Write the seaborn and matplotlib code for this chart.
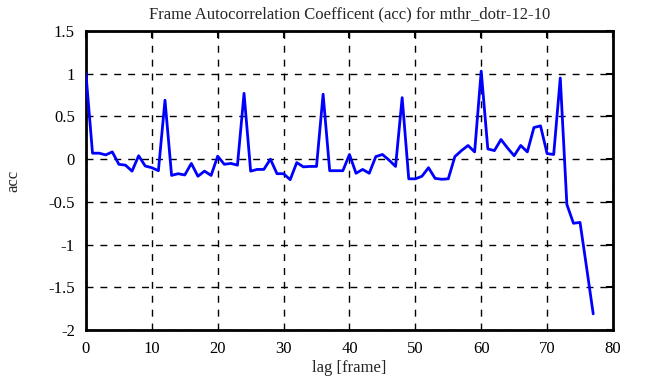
import pandas as pd
import matplotlib
matplotlib.use('Agg')
import matplotlib.pyplot as plt
import seaborn as sns

# autocorrelation values, lag 0..77
lags = list(range(78))
acc = [1.0, 0.07, 0.07, 0.05, 0.085, -0.06, -0.07, -0.14, 0.04, -0.08,
       -0.10, -0.135, 0.69, -0.19, -0.17, -0.185, -0.05, -0.2, -0.14, -0.19,
       0.035, -0.06, -0.05, -0.07, 0.77, -0.14, -0.12, -0.12, 0.0, -0.17,
       -0.17, -0.24, -0.04, -0.09, -0.085, -0.085, 0.76, -0.135, -0.135, -0.135,
       0.055, -0.165, -0.12, -0.165, 0.03, 0.055, -0.01, -0.085, 0.72, -0.23,
       -0.23, -0.2, -0.1, -0.225, -0.235, -0.23, 0.03, 0.1, 0.16, 0.085,
       1.03, 0.12, 0.1, 0.23, 0.13, 0.04, 0.16, 0.085, 0.37, 0.39,
       0.065, 0.055, 0.95, -0.53, -0.75, -0.74, -1.27, -1.81]

xticks = [0, 10, 20, 30, 40, 50, 60, 70, 80]
yticks = [-2, -1.5, -1, -0.5, 0, 0.5, 1, 1.5]
ytick_labels = ['-2', '-1.5', '-1', '-0.5', '0', '0.5', '1', '1.5']

df = pd.DataFrame({'lag': lags, 'acc': acc})

sns.set_style('white')
plt.rcParams['font.family'] = ['Liberation Serif', 'DejaVu Serif']

fig = plt.figure(figsize=(6.51, 3.87), dpi=100)
ax = fig.add_axes([0.132, 0.147, 0.8096, 0.773])

sns.lineplot(data=df, x='lag', y='acc', color='#0000ff', linewidth=2, ax=ax)
ax.lines[0].set_zorder(3)

ax.set_xlim(0, 80)
ax.set_ylim(-2, 1.5)
ax.set_xticks(xticks)
ax.set_xticklabels([str(t) for t in xticks])
ax.set_yticks(yticks)
ax.set_yticklabels(ytick_labels)

ax.grid(True, color='black', linestyle=(0, (5, 5)), linewidth=1)
ax.tick_params(direction='in', length=5, width=1.5, top=True, right=True,
               labelsize=12, colors='black')
ax.tick_params(axis='y', pad=8)
ax.tick_params(axis='x', pad=8)
for s in ax.spines.values():
    s.set_color('black')
    s.set_linewidth(2)
    s.set_zorder(2.5)

ax.set_title('Frame Autocorrelation Coefficent (acc) for mthr_dotr-12-10',
             fontsize=12, pad=9)
ax.set_xlabel('lag [frame]', fontsize=12)
ax.set_ylabel('acc', fontsize=12)
ax.yaxis.set_label_coords(-0.122, 0.5)
ax.xaxis.set_label_coords(0.5, -0.1)

fig.savefig('out.png', dpi=100)
